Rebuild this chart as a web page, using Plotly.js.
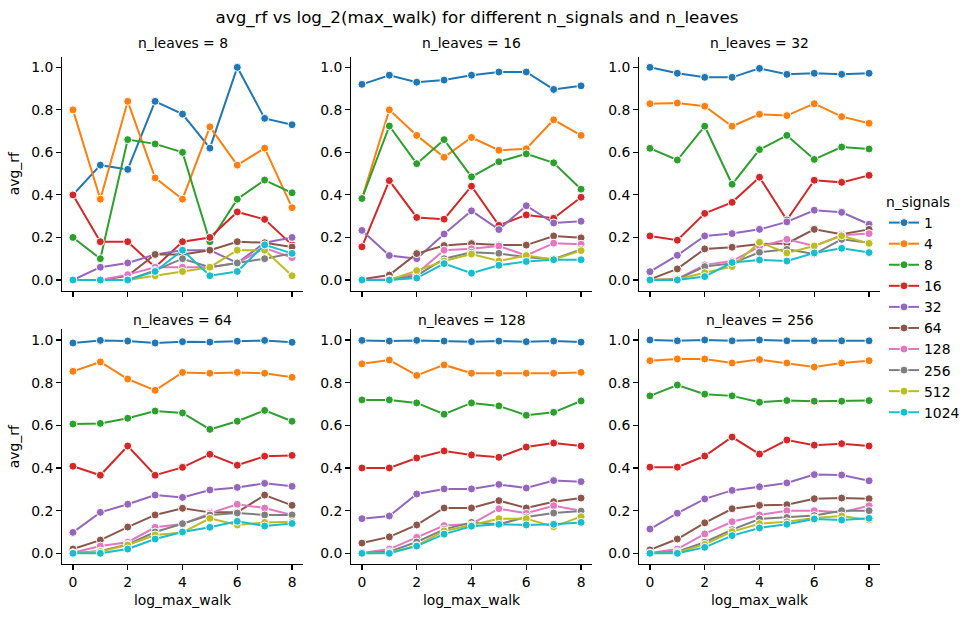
<!DOCTYPE html>
<html>
<head>
<meta charset="utf-8">
<script src="https://cdn.plot.ly/plotly-3.0.1.min.js"></script>
<style>html,body{margin:0;padding:0;background:#fff;}#chart{width:977px;height:617px;}</style>
</head>
<body>
<div id="chart"></div>
<script>
const nLeaves = [8, 16, 32, 64, 128, 256];
const nSignals = [1, 4, 8, 16, 32, 64, 128, 256, 512, 1024];
const logMaxWalk = [0, 1, 2, 3, 4, 5, 6, 7, 8];
const colors = ['#1f77b4','#ff7f0e','#2ca02c','#d62728','#9467bd','#8c564b','#e377c2','#7f7f7f','#bcbd22','#17becf'];

// rows: n_signals 1,4,8,16,32,64,128,256,512,1024 ; columns: log_max_walk 0..8
const avgRf_L8 = [
  [0.40, 0.54, 0.52, 0.84, 0.78, 0.62, 1.00, 0.76, 0.73],
  [0.80, 0.38, 0.84, 0.48, 0.38, 0.72, 0.54, 0.62, 0.34],
  [0.20, 0.10, 0.66, 0.64, 0.60, 0.18, 0.38, 0.47, 0.41],
  [0.40, 0.18, 0.18, 0.06, 0.18, 0.20, 0.32, 0.285, 0.165],
  [0.00, 0.06, 0.08, 0.12, 0.14, 0.14, 0.08, 0.175, 0.20],
  [0.00, 0.00, 0.02, 0.12, 0.12, 0.14, 0.18, 0.175, 0.155],
  [0.00, 0.00, 0.025, 0.06, 0.06, 0.06, 0.08, 0.15, 0.105],
  [0.00, 0.00, 0.00, 0.045, 0.10, 0.06, 0.08, 0.10, 0.125],
  [0.00, 0.00, 0.00, 0.02, 0.04, 0.06, 0.14, 0.14, 0.02],
  [0.00, 0.00, 0.00, 0.04, 0.14, 0.02, 0.04, 0.165, 0.125]
];
const avgRf_L16 = [
  [0.92, 0.963, 0.93, 0.94, 0.963, 0.978, 0.978, 0.896, 0.913],
  [0.383, 0.80, 0.68, 0.577, 0.67, 0.61, 0.617, 0.753, 0.68],
  [0.383, 0.724, 0.547, 0.66, 0.485, 0.556, 0.593, 0.551, 0.427],
  [0.156, 0.467, 0.294, 0.286, 0.441, 0.257, 0.306, 0.29, 0.389],
  [0.233, 0.115, 0.10, 0.216, 0.325, 0.237, 0.349, 0.268, 0.276],
  [0.003, 0.023, 0.124, 0.162, 0.171, 0.164, 0.164, 0.207, 0.198],
  [0.00, 0.003, 0.03, 0.14, 0.147, 0.16, 0.115, 0.173, 0.168],
  [0.00, 0.00, 0.02, 0.10, 0.13, 0.125, 0.107, 0.098, 0.144],
  [0.00, 0.00, 0.044, 0.089, 0.122, 0.089, 0.115, 0.096, 0.138],
  [0.00, 0.00, 0.009, 0.077, 0.032, 0.069, 0.087, 0.095, 0.095]
];
const avgRf_L32 = [
  [1.00, 0.972, 0.953, 0.953, 0.995, 0.967, 0.972, 0.967, 0.972],
  [0.829, 0.832, 0.817, 0.723, 0.779, 0.773, 0.829, 0.768, 0.737],
  [0.619, 0.564, 0.723, 0.45, 0.613, 0.68, 0.567, 0.625, 0.616],
  [0.207, 0.187, 0.313, 0.365, 0.483, 0.282, 0.469, 0.459, 0.492],
  [0.039, 0.116, 0.207, 0.218, 0.238, 0.273, 0.328, 0.318, 0.262],
  [0.003, 0.052, 0.146, 0.154, 0.169, 0.172, 0.238, 0.215, 0.238],
  [0.00, 0.005, 0.071, 0.089, 0.157, 0.191, 0.16, 0.21, 0.218],
  [0.00, 0.003, 0.063, 0.078, 0.13, 0.144, 0.122, 0.191, 0.175],
  [0.00, 0.003, 0.034, 0.063, 0.177, 0.127, 0.16, 0.208, 0.172],
  [0.00, 0.00, 0.016, 0.082, 0.094, 0.089, 0.127, 0.149, 0.129]
];
const avgRf_L64 = [
  [0.986, 0.998, 0.995, 0.986, 0.992, 0.99, 0.994, 0.998, 0.989],
  [0.853, 0.897, 0.817, 0.764, 0.848, 0.844, 0.848, 0.844, 0.825],
  [0.606, 0.609, 0.633, 0.667, 0.658, 0.581, 0.619, 0.67, 0.619],
  [0.408, 0.366, 0.503, 0.366, 0.403, 0.464, 0.413, 0.455, 0.459],
  [0.098, 0.192, 0.23, 0.273, 0.262, 0.297, 0.309, 0.328, 0.314],
  [0.02, 0.062, 0.123, 0.18, 0.211, 0.192, 0.192, 0.273, 0.225],
  [0.003, 0.034, 0.052, 0.122, 0.137, 0.1875, 0.23, 0.212, 0.18],
  [0.00, 0.011, 0.042, 0.10, 0.139, 0.18, 0.189, 0.18, 0.18],
  [0.00, 0.008, 0.039, 0.086, 0.098, 0.164, 0.133, 0.145, 0.148],
  [0.00, 0.00, 0.02, 0.067, 0.10, 0.122, 0.15, 0.128, 0.14]
];
const avgRf_L128 = [
  [0.998, 0.995, 0.998, 0.995, 0.992, 0.995, 0.992, 0.995, 0.99],
  [0.888, 0.906, 0.834, 0.883, 0.844, 0.844, 0.844, 0.844, 0.848],
  [0.719, 0.719, 0.705, 0.652, 0.705, 0.691, 0.647, 0.661, 0.714],
  [0.40, 0.40, 0.447, 0.48, 0.461, 0.45, 0.498, 0.517, 0.503],
  [0.1625, 0.175, 0.278, 0.302, 0.302, 0.323, 0.306, 0.341, 0.336],
  [0.048, 0.077, 0.133, 0.2125, 0.2125, 0.247, 0.2125, 0.242, 0.259],
  [0.002, 0.02, 0.075, 0.13, 0.1375, 0.209, 0.1875, 0.223, 0.20],
  [0.00, 0.008, 0.053, 0.1125, 0.145, 0.136, 0.17, 0.189, 0.198],
  [0.00, 0.003, 0.036, 0.105, 0.133, 0.1625, 0.1625, 0.125, 0.172],
  [0.00, 0.00, 0.034, 0.09, 0.127, 0.136, 0.133, 0.136, 0.145]
];
const avgRf_L256 = [
  [1.00, 0.996, 1.00, 0.996, 1.00, 0.996, 0.996, 0.996, 0.996],
  [0.903, 0.911, 0.911, 0.892, 0.908, 0.892, 0.873, 0.892, 0.903],
  [0.738, 0.789, 0.746, 0.738, 0.708, 0.716, 0.713, 0.713, 0.716],
  [0.404, 0.404, 0.456, 0.545, 0.465, 0.531, 0.507, 0.514, 0.503],
  [0.114, 0.188, 0.255, 0.295, 0.312, 0.33, 0.369, 0.367, 0.34],
  [0.016, 0.067, 0.143, 0.209, 0.225, 0.228, 0.256, 0.259, 0.256],
  [0.002, 0.02, 0.091, 0.148, 0.18, 0.20, 0.20, 0.192, 0.223],
  [0.00, 0.008, 0.052, 0.111, 0.161, 0.168, 0.177, 0.20, 0.20],
  [0.00, 0.004, 0.042, 0.102, 0.139, 0.148, 0.166, 0.175, 0.156],
  [0.00, 0.00, 0.028, 0.083, 0.119, 0.136, 0.161, 0.156, 0.164]
];
const panels = [avgRf_L8, avgRf_L16, avgRf_L32, avgRf_L64, avgRf_L128, avgRf_L256];

const W = 977, H = 617;
const colPx = [[62, 303], [351, 592], [639, 880]];
const rowPx = [[56.7, 290.6], [329.3, 564]];
const FONT = 'DejaVu Sans, Verdana, sans-serif';

const traces = [];
panels.forEach((rows, p) => {
  const suf = p === 0 ? '' : String(p + 1);
  rows.forEach((vals, s) => {
    traces.push({
      type: 'scatter', mode: 'lines+markers',
      x: logMaxWalk, y: vals,
      xaxis: 'x' + suf, yaxis: 'y' + suf,
      name: String(nSignals[s]),
      legendgroup: 's' + nSignals[s],
      showlegend: p === 0,
      line: {color: colors[s], width: 2},
      marker: {color: colors[s], size: 8, line: {color: '#fff', width: 1}}
    });
  });
});

const layout = {
  width: W, height: H,
  margin: {l: 0, r: 0, t: 0, b: 0},
  paper_bgcolor: '#fff', plot_bgcolor: '#fff',
  font: {family: FONT, size: 13.9, color: '#000'},
  showlegend: true,
  title: {text: 'avg_rf vs log_2(max_walk) for different n_signals and n_leaves',
          x: 477 / W, xanchor: 'center', y: 1 - 17 / H, yanchor: 'middle',
          font: {family: FONT, size: 16.7, color: '#000'}},
  legend: {x: 884 / W, xanchor: 'left', y: 1 - 189 / H, yanchor: 'top',
           title: {text: 'n_signals', font: {family: FONT, size: 13.9}},
           font: {family: FONT, size: 13.9}, bgcolor: 'rgba(0,0,0,0)',
           tracegroupgap: 0},
  annotations: []
};

panels.forEach((rows, p) => {
  const r = Math.floor(p / 3), c = p % 3;
  const suf = p === 0 ? '' : String(p + 1);
  const xd = [colPx[c][0] / W, colPx[c][1] / W];
  const yd = [1 - rowPx[r][1] / H, 1 - rowPx[r][0] / H];
  layout['xaxis' + suf] = {
    domain: xd, anchor: 'y' + suf, range: [-0.4, 8.4],
    tickvals: [0, 2, 4, 6, 8], showticklabels: r === 1,
    ticks: 'outside', ticklen: 4.9, tickwidth: 1.1, tickcolor: '#000',
    showline: true, linecolor: '#000', linewidth: 1.1,
    showgrid: false, zeroline: false,
    tickfont: {family: FONT, size: 13.9, color: '#000'},
    title: r === 1 ? {text: 'log_max_walk', font: {family: FONT, size: 13.9}, standoff: 6} : undefined
  };
  layout['yaxis' + suf] = {
    domain: yd, anchor: 'x' + suf, range: [-0.05, 1.05],
    tickvals: [0, 0.2, 0.4, 0.6, 0.8, 1.0], tickformat: '.1f',
    ticks: 'outside', ticklen: 4.9, tickwidth: 1.1, tickcolor: '#000',
    showline: true, linecolor: '#000', linewidth: 1.1,
    showgrid: false, zeroline: false,
    tickfont: {family: FONT, size: 13.9, color: '#000'},
    title: c === 0 ? {text: 'avg_rf', font: {family: FONT, size: 13.9}, standoff: 8} : undefined
  };
  layout.annotations.push({
    text: 'n_leaves = ' + nLeaves[p], xref: 'paper', yref: 'paper',
    x: (xd[0] + xd[1]) / 2, xanchor: 'center',
    y: 1 - (r === 0 ? 43 : 320) / H, yanchor: 'middle',
    showarrow: false, font: {family: FONT, size: 13.9, color: '#000'}
  });
});

Plotly.newPlot('chart', traces, layout, {displayModeBar: false, staticPlot: true});
</script>
</body>
</html>
